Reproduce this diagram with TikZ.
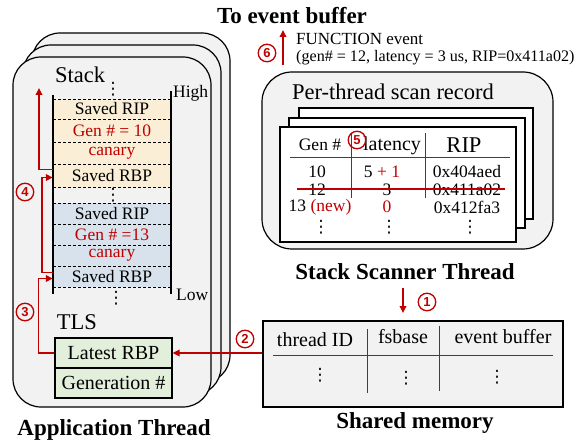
\documentclass[tikz,border=0pt]{standalone}
\usepackage{fontspec}
\setmainfont{Liberation Serif}
\newfontfamily\circfont{Liberation Sans}
\newfontfamily\dotfont{DejaVu Sans}
\usetikzlibrary{arrows.meta}
\definecolor{myred}{HTML}{C00000}
\definecolor{bgray}{HTML}{F2F2F2}
\definecolor{cyel}{HTML}{FAEFD6}
\definecolor{cblu}{HTML}{D7E2EC}
\definecolor{cgrn}{HTML}{E2EFDA}
\begin{document}
\begin{tikzpicture}[x=1pt,y=-1pt,
  thread/.style={draw=black, line width=1.2pt, fill=bgray, rounded corners=28pt},
  card/.style={draw=black, line width=1.2pt, fill=white},
  cell/.style={inner sep=0pt, minimum width=118pt, fill=#1, font=\fontsize{17.5}{18}\selectfont},
  rd/.style={text=myred},
  redarr/.style={draw=myred, line width=1.8pt, -{Triangle[length=7pt,width=6.5pt]}},
  circ/.style={circle, draw=myred, line width=1.3pt, inner sep=0pt, minimum size=17.5pt, text=myred, font=\circfont\bfseries\fontsize{13}{13}\selectfont},
  ttl/.style={font=\bfseries\fontsize{23}{23}\selectfont},
  lbl/.style={font=\fontsize{17.5}{18}\selectfont},
  big/.style={font=\fontsize{22.5}{23}\selectfont},
  mid/.style={font=\fontsize{20}{21}\selectfont},
  dots/.style={font=\dotfont\fontsize{17}{17}\selectfont, inner sep=0pt},
  tline/.style={draw=black!75, line width=0.9pt}
]
\useasboundingbox (0,0) rectangle (579,441);

% ---------------- Application thread ----------------
\path[thread] (32,33) rectangle (230,383);
\path[thread] (23,45) rectangle (221,395);
\path[thread] (13,57) rectangle (211,407);

\node[big] (stack) at (80,75) {Stack};
\node[dots] (sdots1) at (113,89) {⋮};

% cells
\node[cell=cyel, minimum height=20pt] (y1) at (112,109) {Saved RIP};
\node[cell=cyel, minimum height=23pt, rd] (y2) at (112,130.5) {Gen \# = 10};
\node[cell=cyel, minimum height=22pt, rd] (y3) at (112,153) {canary};
\node[cell=cyel, minimum height=23pt] (y4) at (112,175.5) {Saved RBP};
\node[dots] (sdots2) at (113,195) {⋮};
\node[cell=cblu, minimum height=21pt] (b1) at (112,213.5) {Saved RIP};
\node[cell=cblu, minimum height=21pt, rd] (b2) at (112,234.5) {Gen \# =13};
\node[cell=cblu, minimum height=21pt, rd] (b3) at (112,255.5) {canary};
\node[cell=cblu, minimum height=21pt] (b4) at (112,276.5) {Saved RBP};
\node[dots] (sdots3) at (116,298) {⋮};

\foreach \yy in {99,119,142,164,187,203,224,245,266,287}
  \draw[line width=0.8pt, dash pattern=on 3pt off 2pt] (53,\yy) -- (171,\yy);
\draw[line width=2pt] (53,95) -- (53,294);
\draw[line width=2pt] (171,91) -- (171,294);

\node[lbl, anchor=west, inner sep=0pt] (high) at (173,93) {High};
\node[lbl, anchor=west, inner sep=0pt] (low) at (176,295) {Low};

\node[big] (tls) at (77,322) {TLS};
\node[draw=black, line width=1.2pt, fill=cgrn, minimum width=117pt, minimum height=30pt, inner sep=0pt, mid] (tls1) at (113.5,353) {Latest RBP};
\node[draw=black, line width=1.2pt, fill=cgrn, minimum width=117pt, minimum height=30pt, inner sep=0pt, mid] (tls2) at (113.5,383) {Generation \#};

\node[ttl] (appt) at (114,430) {Application Thread};

% red arrows in stack
\draw[redarr] (tls1.west) -- ++(-16,0) |- ([yshift=-2pt]b4.west);
\draw[redarr] ([yshift=4pt]b4.west) -- ++(-11,0) |- ([yshift=-2pt]y4.west);
\coordinate (upend) at (39,88);
\draw[redarr] ([yshift=6pt]y4.west) -| (upend);
\node[circ] (c4) at (25,192) {4};
\node[circ] (c3) at (25,312) {3};

% ---------------- Top: event buffer ----------------
\node[ttl] (evbuf) at (292,16) {To event buffer};
\coordinate (a6s) at (283,65);
\coordinate (a6e) at (283,30);
\draw[redarr] (a6s) -- (a6e);
\node[circ] (c6) at (267,53) {6};
\node[anchor=west, inner sep=0pt, font=\fontsize{17}{18}\selectfont] (fev) at (296,39) {FUNCTION event};
\node[anchor=west, inner sep=0pt, font=\fontsize{16.1}{17}\selectfont] (fev2) at (296,58) {(gen\# = 12, latency = 3 us, RIP=0x411a02)};

% ---------------- Per-thread scan record ----------------
\path[thread, rounded corners=30pt] (262,72) rectangle (553,249);
\node[big] (ptsr) at (393,92) {Per-thread scan record};
\path[card] (299,108) rectangle (533,219);
\path[card] (289,118) rectangle (525,228);
\path[card] (280,127) rectangle (516,242);

\draw[tline] (290,157) -- (510,157);
\draw[tline] (351,133) -- (351,198);
\draw[tline] (425,133) -- (425,198);

\node[lbl] (hgen) at (320,145) {Gen \#};
\node[mid] (hlat) at (392,146) {latency};
\node[big] (hrip) at (464,145) {RIP};

\node[lbl] (r1a) at (317,172) {10};
\node[lbl] (r1b) at (382,172) {5 \textcolor{myred}{+ 1}};
\node[lbl] (r1c) at (467,172) {0x404aed};
\node[lbl] (r2a) at (317,190) {12};
\node[lbl] (r2b) at (387,190) {3};
\node[lbl] (r2c) at (467,190) {0x411a02};
\node[lbl] (r3a) at (320,207) {13 \textcolor{myred}{(new)}};
\node[lbl, rd] (r3b) at (387,207) {0};
\node[lbl] (r3c) at (467,207) {0x412fa3};
\node[dots] (td1) at (321,227) {⋮};
\node[dots] (td2) at (389,227) {⋮};
\node[dots] (td3) at (470,227) {⋮};

\draw[myred, line width=2.6pt] (297,189) -- (505,189);
\node[circ] (c5) at (357,140) {5};

\node[ttl] (sst) at (405,272) {Stack Scanner Thread};

% ---------------- Shared memory ----------------
\coordinate (a1s) at (403,288);
\coordinate (a1e) at (403,313);
\draw[redarr] (a1s) -- (a1e);
\node[circ] (c1) at (427,302) {1};

\node[draw=black, line width=1.2pt, fill=bgray, minimum width=300pt, minimum height=86pt, inner sep=0pt] (shm) at (413,364) {};
\draw[tline] (273,355) -- (553,355);
\draw[tline] (367,329) -- (367,393);
\draw[tline] (439,326) -- (439,391);
\node[mid] (sh1) at (315,340) {thread ID};
\node[mid] (sh2) at (403,337) {fsbase};
\node[mid] (sh3) at (503,337) {event buffer};
\node[dots] (sd1) at (320,375) {⋮};
\node[dots] (sd2) at (406,378) {⋮};
\node[dots] (sd3) at (497,377) {⋮};
\node[ttl] (shmt) at (415,423) {Shared memory};

\draw[redarr] ([yshift=11pt]shm.west) -- (tls1.east);
\node[circ] (c2) at (245,339) {2};
\end{tikzpicture}
\end{document}
